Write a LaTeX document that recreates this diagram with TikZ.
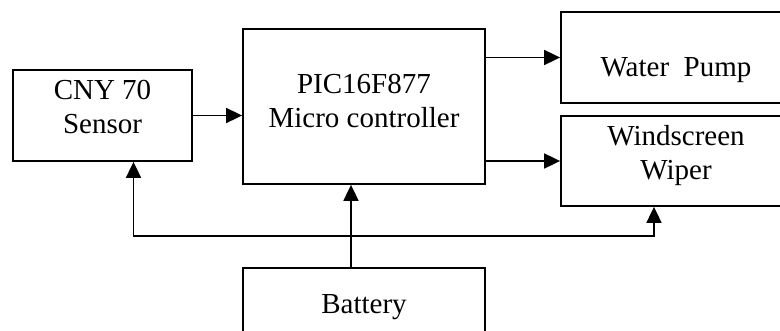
\documentclass[tikz,border=0pt]{standalone}
\usepackage{fontspec}
\setmainfont{Liberation Serif}
\usetikzlibrary{arrows.meta,positioning,calc}

\begin{document}
\begin{tikzpicture}[
  x=1pt,y=1pt,
  font=\fontsize{29}{34}\selectfont,
  box/.style={draw,line width=1.8pt,align=center,inner sep=0pt},
  ar/.style={-{Triangle[length=16pt,width=15pt]},line width=1.8pt}
]
\useasboundingbox (0,0) rectangle (780,330);

% ---------------- blocks (the rules only move the text inside its box)
\node[box,minimum width=179pt,minimum height=91pt] (sensor) at (102.5,214.5)
  {CNY 70\\Sensor\rule[-17.5pt]{0pt}{0pt}};
\node[box,minimum width=242pt,minimum height=155pt] (mcu) at (364,223.5)
  {PIC16F877\\Micro controller\rule[-12pt]{0pt}{0pt}};
\node[box,minimum width=230pt,minimum height=91pt] (pump) at (676,272.5)
  {\rule{0pt}{44.5pt}Water\ \ Pump};
\node[box,minimum width=230pt,minimum height=90pt] (wiper) at (676,169)
  {Windscreen\\Wiper\rule[-17.3pt]{0pt}{0pt}};
\node[box,minimum width=242pt,minimum height=72pt] (bat) at (364,26)
  {\rule{0pt}{25.5pt}Battery};

% ---------------- signal arrows
\draw[ar] (sensor.east) -- (sensor.east -| mcu.west);
\foreach \b in {pump,wiper} \draw[ar] (mcu.east |- \b.west) -- (\b.west);

% ---------------- supply from the battery
\coordinate (bus) at ([xshift=-13pt]bat.north |- 0,94);
\draw[ar] ([xshift=-13pt]bat.north) -- ([xshift=-13pt]mcu.south);
\draw[ar] (bus) -| ([xshift=31pt]sensor.south);
\draw[ar] (bus) -| ([xshift=-22pt]wiper.south);
\end{tikzpicture}
\end{document}
